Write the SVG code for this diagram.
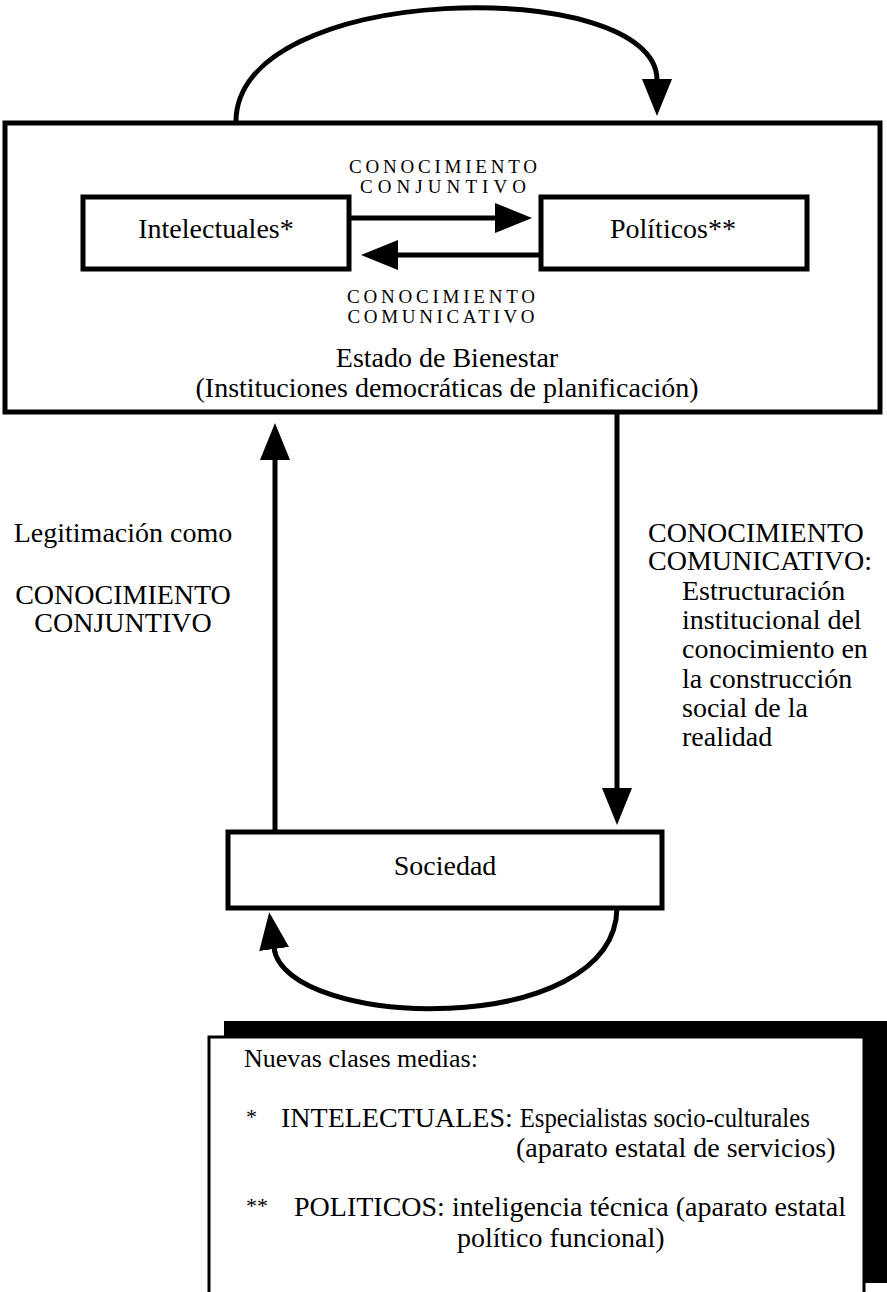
<svg xmlns="http://www.w3.org/2000/svg" width="887" height="1292" viewBox="0 0 887 1292">
<style>
  .t { font-family: "Liberation Serif", "DejaVu Serif", serif; fill: #000; }
  .box { fill: #fff; stroke: #000; stroke-width: 5; }
  .conn { fill: none; stroke: #000; stroke-width: 5; marker-end: url(#arrow); }
  .lbl { font-size: 28px; }
  .sm { font-size: 19px; }
  .mid { text-anchor: middle; }
  .lg { font-size: 28px; }
</style>
<defs>
  <marker id="arrow" markerUnits="userSpaceOnUse" markerWidth="40" markerHeight="34" refX="1" refY="16" orient="auto">
    <path d="M0,1 L37,16 L0,31 z" fill="#000"/>
  </marker>
</defs>
<rect width="887" height="1292" fill="#fff"/>

<g font-family="Liberation Serif, DejaVu Serif, serif">
<g id="node-estado">
  <rect class="box" x="5" y="123" width="875" height="289"/>
  <text class="t lbl mid" x="447" y="367">Estado de Bienestar</text>
  <text class="t lbl mid" x="447" y="397">(Instituciones democráticas de planificación)</text>
</g>

<g id="node-intelectuales">
  <rect class="box" x="83" y="197" width="266" height="72"/>
  <text class="t lbl mid" x="216" y="238" font-size="27">Intelectuales*</text>
</g>

<g id="node-politicos">
  <rect class="box" x="541" y="197" width="266" height="72"/>
  <text class="t lbl mid" x="673" y="238" font-size="27">Políticos**</text>
</g>

<g id="node-sociedad">
  <rect class="box" x="228" y="832" width="434" height="76"/>
  <text class="t lbl mid" x="445" y="875">Sociedad</text>
</g>

<g id="connectors">
  <path class="conn" d="M236,124 C232,-20 657,-25 657,80"/>
  <path class="conn" d="M349,218 L496,218"/>
  <path class="conn" d="M541,255 L397,255"/>
  <path class="conn" d="M617,412 L617,789"/>
  <path class="conn" d="M275,832 L275,459"/>
  <path class="conn" d="M617,908 C615,1040 285,1030 274,948"/>
</g>

<g id="labels">
  <text class="t sm mid" x="443" y="173" textLength="188" lengthAdjust="spacing">CONOCIMIENTO</text>
  <text class="t sm mid" x="443" y="193" textLength="166" lengthAdjust="spacing">CONJUNTIVO</text>
  <text class="t sm mid" x="441" y="303" textLength="188" lengthAdjust="spacing">CONOCIMIENTO</text>
  <text class="t sm mid" x="441" y="323" textLength="187" lengthAdjust="spacing">COMUNICATIVO</text>

  <text class="t lbl mid" x="123" y="542">Legitimación como</text>
  <text class="t lbl mid" x="123" y="604">CONOCIMIENTO</text>
  <text class="t lbl mid" x="123" y="632">CONJUNTIVO</text>

  <text class="t lbl" x="648" y="542">CONOCIMIENTO</text>
  <text class="t lbl" x="648" y="570">COMUNICATIVO:</text>
  <text class="t lbl" x="682" y="600">Estructuración</text>
  <text class="t lbl" x="682" y="629">institucional del</text>
  <text class="t lbl" x="682" y="658">conocimiento en</text>
  <text class="t lbl" x="682" y="688">la construcción</text>
  <text class="t lbl" x="682" y="717">social de la</text>
  <text class="t lbl" x="682" y="746">realidad</text>
</g>

<g id="legend">
  <rect x="224" y="1021" width="663" height="262" fill="#000"/>
  <rect x="209" y="1037" width="655" height="270" fill="#fff" stroke="#000" stroke-width="3"/>
  <text class="t" x="244" y="1067" font-size="26">Nuevas clases medias:</text>
  <text class="t" x="246" y="1124" font-size="22">*</text>
  <text class="t lg" x="281" y="1127">INTELECTUALES: <tspan textLength="290" lengthAdjust="spacingAndGlyphs">Especialistas socio-culturales</tspan></text>
  <text class="t lg" x="516" y="1157" font-size="27.5">(aparato estatal de servicios)</text>
  <text class="t" x="246" y="1213" font-size="22">**</text>
  <text class="t lg" x="294" y="1216">POLITICOS: inteligencia técnica (aparato estatal</text>
  <text class="t lg" x="457" y="1247">político funcional)</text>
</g>
</g>
</svg>
